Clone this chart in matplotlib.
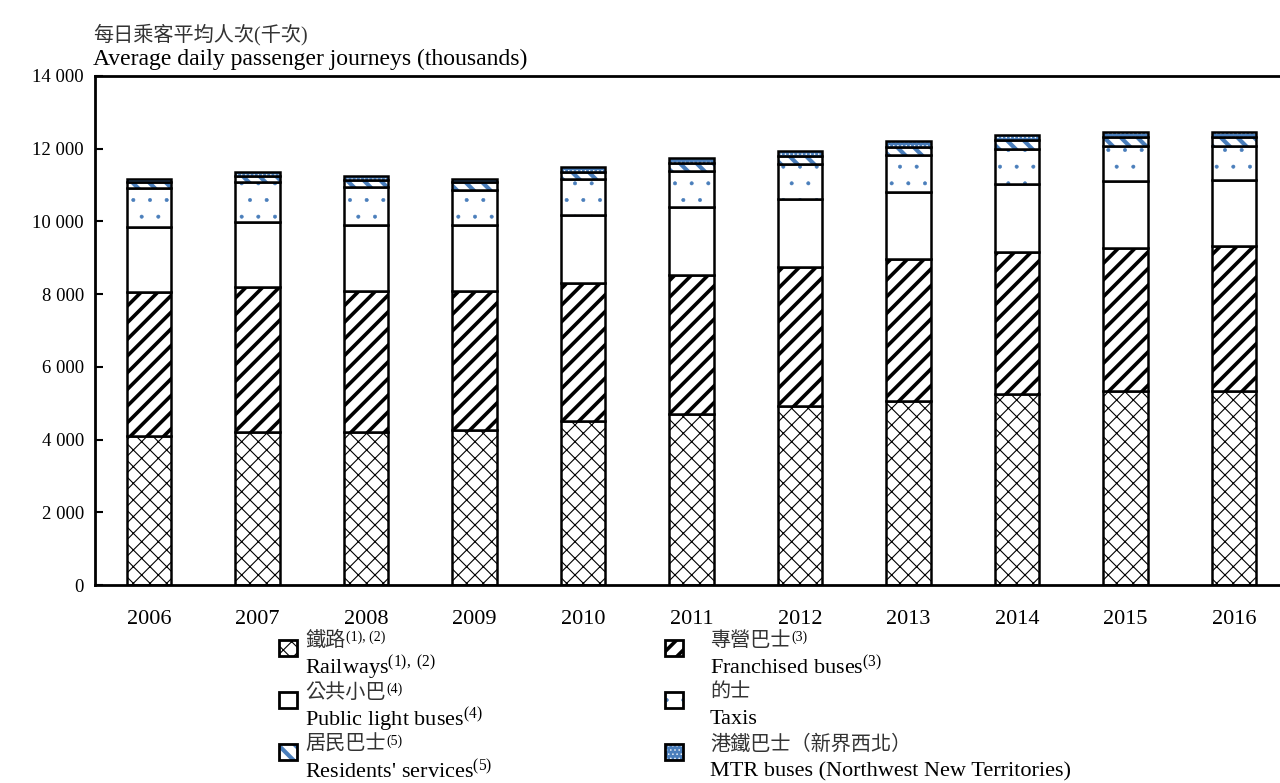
import matplotlib
matplotlib.use("Agg")
import matplotlib.pyplot as plt
import numpy as np
from matplotlib.patches import Rectangle
from matplotlib.ticker import FuncFormatter, MultipleLocator

plt.rcParams['font.family'] = ['Liberation Serif', 'Noto Sans CJK TC']
plt.rcParams['mathtext.fontset'] = 'custom'
plt.rcParams['mathtext.rm'] = 'Liberation Serif'
plt.rcParams['mathtext.it'] = 'Liberation Serif:italic'

# average daily passenger journeys (thousands)
years = ["2006", "2007", "2008", "2009", "2010", "2011", "2012", "2013", "2014", "2015", "2016"]
railways = [4110, 4210, 4200, 4260, 4500, 4710, 4930, 5060, 5260, 5340, 5340]
franchised = [3960, 3990, 3880, 3830, 3810, 3810, 3820, 3910, 3900, 3920, 3980]
light_buses = [1780, 1790, 1830, 1810, 1860, 1880, 1870, 1850, 1860, 1850, 1820]
taxis = [1060, 1100, 1050, 970, 990, 1000, 950, 1010, 970, 960, 930]
residents = [180, 170, 180, 220, 200, 200, 230, 220, 240, 240, 240]
mtr_buses = [90, 100, 120, 90, 130, 150, 140, 160, 150, 150, 140]

series = [railways, franchised, light_buses, taxis, residents, mtr_buses]
blue = '#4a7ebb'
# face, hatch colour, hatch, hatch linewidth
styles = [
    ('white', 'black', 'xx', 0.8),
    ('white', 'black', '//', 2.6),
    ('white', 'black', None, 1.0),
    ('white', blue, '.', 0.4),
    ('white', blue, '\\\\', 3.0),
    (blue, 'white', '....', 0.5),
]


def set_hlw(p, lw):
    if hasattr(p, 'set_hatch_linewidth'):
        p.set_hatch_linewidth(lw)


W, H = 1280, 783
fig = plt.figure(figsize=(12.8, 7.83), dpi=100)
ax = fig.add_axes([95 / W, 1 - 585 / H, (1288 - 95) / W, (585 - 76) / H])

x = np.arange(len(years))
bottom = np.zeros(len(years))
for vals, (face, hc, hatch, hlw) in zip(series, styles):
    with plt.rc_context({'hatch.linewidth': hlw}):
        bars = ax.bar(x, vals, 0.41, bottom=bottom, color=face, edgecolor=hc,
                      hatch=hatch, linewidth=0)
        for b in bars:
            set_hlw(b, hlw)
    ax.bar(x, vals, 0.41, bottom=bottom, fill=False, edgecolor='black', linewidth=1.8)
    bottom += np.array(vals)

ax.set_xlim(-0.5, len(years) - 0.5)
ax.set_ylim(0, 14000)
ax.yaxis.set_major_locator(MultipleLocator(2000))
ax.yaxis.set_major_formatter(FuncFormatter(lambda v, p: f"{int(v):,}".replace(",", " ")))
ax.set_xticks(x)
ax.set_xticklabels(years)
ax.tick_params(axis='x', length=0, labelsize=16, pad=18)
ax.tick_params(axis='y', direction='in', length=6, width=1.5, labelsize=13.5, pad=8)
for s in ['left', 'top', 'bottom']:
    ax.spines[s].set_linewidth(2)
ax.spines['right'].set_visible(False)

fig.text(93 / W, 1 - 35 / H, "每日乘客平均人次(千次)", fontsize=14.5, va='center', color='#333333')
fig.text(93 / W, 1 - 59 / H, "Average daily passenger journeys (thousands)", fontsize=17, va='center')

renderer = fig.canvas.get_renderer()


def zh_label(px, py, txt, sup):
    t = fig.text(px / W, 1 - py / H, txt, fontsize=14.5, va='center', color='#333333')
    if sup:
        bb = t.get_window_extent(renderer)
        fig.text((bb.x1 + 1) / W, (bb.y1 + 1) / H, sup, fontsize=10, va='top')


# legend
entries = [
    ("鐵路", "(1), (2)", "Railways$^{(1),\\ (2)}$"),
    ("專營巴士", "(3)", "Franchised buses$^{(3)}$"),
    ("公共小巴", "(4)", "Public light buses$^{(4)}$"),
    ("的士", "", "Taxis"),
    ("居民巴士", "(5)", "Residents' services$^{(5)}$"),
    ("港鐵巴士（新界西北）", "", "MTR buses (Northwest New Territories)"),
]
for i, ((zh, sup, en), (face, hc, hatch, hlw)) in enumerate(zip(entries, styles)):
    col, row = i % 2, i // 2
    hx = 279 if col == 0 else 665
    tx = 305 if col == 0 else 710
    cy = 648 + row * 52
    with plt.rc_context({'hatch.linewidth': hlw}):
        r = Rectangle((hx / W, 1 - (cy + 8) / H), 18 / W, 16 / H, transform=fig.transFigure,
                      facecolor=face, edgecolor=hc, hatch=hatch, linewidth=0)
        set_hlw(r, hlw)
    fig.add_artist(r)
    fig.add_artist(Rectangle((hx / W, 1 - (cy + 8) / H), 18 / W, 16 / H, transform=fig.transFigure,
                             fill=False, edgecolor='black', linewidth=2))
    zh_label(tx, cy - 7, zh, sup)
    fig.text(tx / W, 1 - (cy + 20) / H, en, fontsize=16, va='center')

fig.savefig("out.png", dpi=100)
